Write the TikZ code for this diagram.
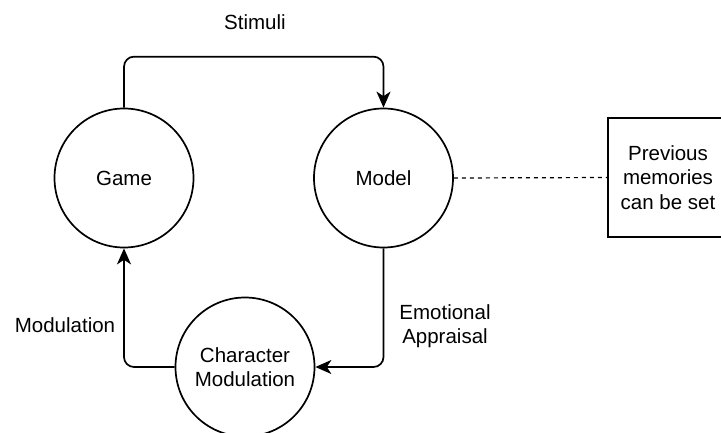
\documentclass[tikz,border=0pt]{standalone}
\usepackage{fontspec}
\setmainfont{Liberation Sans}
\usetikzlibrary{arrows.meta}
\begin{document}
\begin{tikzpicture}[x=1pt,y=1pt,
  every node/.style={font=\fontsize{20.5}{24.5}\selectfont, align=center},
  state/.style={draw, circle, line width=1.7pt, minimum size=139pt, inner sep=0pt},
  note/.style={draw, rectangle, line width=1.7pt, minimum width=120pt, minimum height=119pt, inner sep=0pt},
  link/.style={line width=1.7pt, rounded corners=10pt, shorten >=10pt},
  tip/.style={line width=1.7pt, -{Stealth[length=16pt,width=14pt,inset=4.5pt]}},
  lbl/.style={inner sep=0pt}]
\useasboundingbox (0,-432) rectangle (721,0);
\node[state] (game) at (124,-178) {Game};
\node[state] (model) at (383.5,-178) {Model};
\node[state] (char) at (245,-367) {Character\\Modulation};
\node[note] (mem) at (668,-177.5) {Previous\\memories\\can be set};
\draw[link] (game.north) -- ++(0,51) -| (model.north);
\draw[tip] ([yshift=20pt]model.north) -- (model.north);
\draw[link] (model.south) |- (char.east);
\draw[tip] ([xshift=20pt]char.east) -- (char.east);
\draw[link] (char.west) -| (game.south);
\draw[tip] ([yshift=-20pt]game.south) -- (game.south);
\draw[line width=1.2pt, dash pattern=on 4pt off 4pt] (model.east) -- (mem.west);
\node[lbl] (stim) at (255,-22) {Stimuli};
\node[lbl] (modl) at (65,-325) {Modulation};
\node[lbl] (emo) at (445,-326) {Emotional\\Appraisal};
\end{tikzpicture}
\end{document}
